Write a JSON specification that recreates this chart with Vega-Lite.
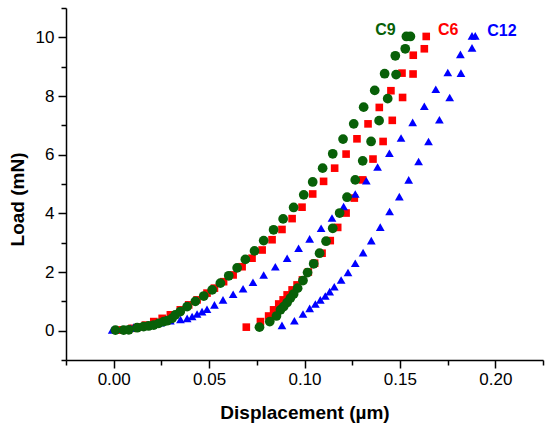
{
  "$schema": "https://vega.github.io/schema/vega-lite/v6.json",
  "autosize": "none",
  "width": 477,
  "height": 352,
  "padding": {"left": 66, "top": 8, "right": 7, "bottom": 68},
  "background": "white",
  "config": {
    "view": {"stroke": null},
    "axis": {
      "domainColor": "black", "domainWidth": 1.5,
      "tickColor": "black", "tickWidth": 1.5,
      "labelFont": "Liberation Sans", "labelFontSize": 17, "labelColor": "black",
      "titleFont": "Liberation Sans", "titleFontSize": 19, "titleFontWeight": "bold", "titleColor": "black",
      "grid": false, "labelOverlap": false, "labelFlush": false
    }
  },
  "datasets": {
    "pts": [
      {"s":"C6","x":0.0018,"y":0.02},{"s":"C6","x":0.005,"y":0.03},{"s":"C6","x":0.0096,"y":0.08},{"s":"C6","x":0.013,"y":0.13},{"s":"C6","x":0.0166,"y":0.19},{"s":"C6","x":0.021,"y":0.31},{"s":"C6","x":0.0254,"y":0.42},{"s":"C6","x":0.0297,"y":0.54},{"s":"C6","x":0.0349,"y":0.71},{"s":"C6","x":0.0393,"y":0.88},{"s":"C6","x":0.0437,"y":1.05},{"s":"C6","x":0.0489,"y":1.28},{"s":"C6","x":0.0528,"y":1.45},{"s":"C6","x":0.0576,"y":1.67},{"s":"C6","x":0.0626,"y":1.9},{"s":"C6","x":0.0673,"y":2.18},{"s":"C6","x":0.0725,"y":2.47},{"s":"C6","x":0.0778,"y":2.75},{"s":"C6","x":0.083,"y":3.1},{"s":"C6","x":0.0882,"y":3.45},{"s":"C6","x":0.0935,"y":3.82},{"s":"C6","x":0.0987,"y":4.21},{"s":"C6","x":0.1043,"y":4.66},{"s":"C6","x":0.11,"y":5.09},{"s":"C6","x":0.1158,"y":5.54},{"s":"C6","x":0.1218,"y":6.02},{"s":"C6","x":0.1275,"y":6.54},{"s":"C6","x":0.1333,"y":7.05},{"s":"C6","x":0.1392,"y":7.61},{"s":"C6","x":0.1453,"y":8.18},{"s":"C6","x":0.1511,"y":8.78},{"s":"C6","x":0.157,"y":9.39},{"s":"C6","x":0.1638,"y":10.03},
      {"s":"C6","x":0.1628,"y":9.61},{"s":"C6","x":0.1569,"y":8.75},{"s":"C6","x":0.1514,"y":7.95},{"s":"C6","x":0.146,"y":7.17},{"s":"C6","x":0.1412,"y":6.45},{"s":"C6","x":0.1359,"y":5.85},{"s":"C6","x":0.1305,"y":5.14},{"s":"C6","x":0.1261,"y":4.52},{"s":"C6","x":0.1218,"y":4.01},{"s":"C6","x":0.1174,"y":3.52},{"s":"C6","x":0.1135,"y":3.07},{"s":"C6","x":0.1092,"y":2.64},{"s":"C6","x":0.1053,"y":2.3},{"s":"C6","x":0.102,"y":2.0},{"s":"C6","x":0.0989,"y":1.73},{"s":"C6","x":0.0961,"y":1.56},{"s":"C6","x":0.0935,"y":1.39},{"s":"C6","x":0.0909,"y":1.22},{"s":"C6","x":0.0888,"y":1.05},{"s":"C6","x":0.0865,"y":0.91},{"s":"C6","x":0.0838,"y":0.71},{"s":"C6","x":0.0812,"y":0.5},{"s":"C6","x":0.0769,"y":0.31},{"s":"C6","x":0.0695,"y":0.12},
      {"s":"C12","x":-0.0008,"y":0.02},{"s":"C12","x":0.0044,"y":0.05},{"s":"C12","x":0.0088,"y":0.08},{"s":"C12","x":0.0105,"y":0.12},{"s":"C12","x":0.014,"y":0.14},{"s":"C12","x":0.0192,"y":0.19},{"s":"C12","x":0.0245,"y":0.27},{"s":"C12","x":0.0297,"y":0.34},{"s":"C12","x":0.035,"y":0.38},{"s":"C12","x":0.0385,"y":0.42},{"s":"C12","x":0.0411,"y":0.48},{"s":"C12","x":0.0437,"y":0.57},{"s":"C12","x":0.0463,"y":0.65},{"s":"C12","x":0.0489,"y":0.73},{"s":"C12","x":0.0528,"y":0.88},{"s":"C12","x":0.0573,"y":1.05},{"s":"C12","x":0.0626,"y":1.24},{"s":"C12","x":0.0678,"y":1.43},{"s":"C12","x":0.073,"y":1.65},{"s":"C12","x":0.0786,"y":1.9},{"s":"C12","x":0.0847,"y":2.18},{"s":"C12","x":0.0909,"y":2.47},{"s":"C12","x":0.0969,"y":2.81},{"s":"C12","x":0.1027,"y":3.13},{"s":"C12","x":0.1087,"y":3.49},{"s":"C12","x":0.1144,"y":3.84},{"s":"C12","x":0.1205,"y":4.23},{"s":"C12","x":0.1266,"y":4.66},{"s":"C12","x":0.1324,"y":5.11},{"s":"C12","x":0.1383,"y":5.58},{"s":"C12","x":0.1445,"y":6.05},{"s":"C12","x":0.1506,"y":6.57},{"s":"C12","x":0.1567,"y":7.1},{"s":"C12","x":0.1628,"y":7.65},{"s":"C12","x":0.1688,"y":8.23},{"s":"C12","x":0.1751,"y":8.8},{"s":"C12","x":0.1817,"y":9.42},{"s":"C12","x":0.1878,"y":10.05},{"s":"C12","x":0.1895,"y":10.05},
      {"s":"C12","x":0.1878,"y":9.64},{"s":"C12","x":0.182,"y":8.78},{"s":"C12","x":0.1761,"y":7.95},{"s":"C12","x":0.1707,"y":7.19},{"s":"C12","x":0.165,"y":6.45},{"s":"C12","x":0.1598,"y":5.77},{"s":"C12","x":0.1546,"y":5.14},{"s":"C12","x":0.1497,"y":4.57},{"s":"C12","x":0.1446,"y":4.06},{"s":"C12","x":0.1397,"y":3.53},{"s":"C12","x":0.135,"y":3.07},{"s":"C12","x":0.1307,"y":2.66},{"s":"C12","x":0.1266,"y":2.3},{"s":"C12","x":0.1228,"y":1.98},{"s":"C12","x":0.1192,"y":1.73},{"s":"C12","x":0.1156,"y":1.5},{"s":"C12","x":0.1132,"y":1.33},{"s":"C12","x":0.1109,"y":1.18},{"s":"C12","x":0.1083,"y":1.05},{"s":"C12","x":0.1057,"y":0.91},{"s":"C12","x":0.1027,"y":0.76},{"s":"C12","x":0.0992,"y":0.57},{"s":"C12","x":0.0947,"y":0.34},{"s":"C12","x":0.0882,"y":0.18},
      {"s":"C9","x":0.0009,"y":0.02},{"s":"C9","x":0.0052,"y":0.02},{"s":"C9","x":0.0079,"y":0.03},{"s":"C9","x":0.0123,"y":0.1},{"s":"C9","x":0.0157,"y":0.14},{"s":"C9","x":0.0183,"y":0.16},{"s":"C9","x":0.021,"y":0.19},{"s":"C9","x":0.0236,"y":0.25},{"s":"C9","x":0.0262,"y":0.31},{"s":"C9","x":0.028,"y":0.34},{"s":"C9","x":0.0306,"y":0.42},{"s":"C9","x":0.0323,"y":0.54},{"s":"C9","x":0.0349,"y":0.65},{"s":"C9","x":0.0385,"y":0.82},{"s":"C9","x":0.0428,"y":1.0},{"s":"C9","x":0.0472,"y":1.18},{"s":"C9","x":0.0516,"y":1.39},{"s":"C9","x":0.0559,"y":1.62},{"s":"C9","x":0.0603,"y":1.87},{"s":"C9","x":0.0647,"y":2.14},{"s":"C9","x":0.069,"y":2.43},{"s":"C9","x":0.0738,"y":2.72},{"s":"C9","x":0.0786,"y":3.07},{"s":"C9","x":0.0838,"y":3.44},{"s":"C9","x":0.0888,"y":3.81},{"s":"C9","x":0.0943,"y":4.2},{"s":"C9","x":0.0996,"y":4.63},{"s":"C9","x":0.1043,"y":5.07},{"s":"C9","x":0.1095,"y":5.54},{"s":"C9","x":0.1148,"y":6.03},{"s":"C9","x":0.1202,"y":6.53},{"s":"C9","x":0.1258,"y":7.05},{"s":"C9","x":0.131,"y":7.62},{"s":"C9","x":0.1368,"y":8.19},{"s":"C9","x":0.142,"y":8.76},{"s":"C9","x":0.1476,"y":9.37},{"s":"C9","x":0.1528,"y":9.61},{"s":"C9","x":0.1534,"y":10.03},{"s":"C9","x":0.1555,"y":10.03},
      {"s":"C9","x":0.148,"y":8.73},{"s":"C9","x":0.1436,"y":7.91},{"s":"C9","x":0.1391,"y":7.16},{"s":"C9","x":0.1349,"y":6.45},{"s":"C9","x":0.1305,"y":5.79},{"s":"C9","x":0.1266,"y":5.14},{"s":"C9","x":0.1223,"y":4.55},{"s":"C9","x":0.1184,"y":4.01},{"s":"C9","x":0.1148,"y":3.49},{"s":"C9","x":0.1113,"y":3.05},{"s":"C9","x":0.1079,"y":2.64},{"s":"C9","x":0.1048,"y":2.28},{"s":"C9","x":0.1016,"y":1.98},{"s":"C9","x":0.0992,"y":1.71},{"s":"C9","x":0.0964,"y":1.45},{"s":"C9","x":0.0943,"y":1.25},{"s":"C9","x":0.0926,"y":1.11},{"s":"C9","x":0.0909,"y":0.96},{"s":"C9","x":0.0891,"y":0.82},{"s":"C9","x":0.0874,"y":0.71},{"s":"C9","x":0.0853,"y":0.5},{"s":"C9","x":0.0818,"y":0.31},{"s":"C9","x":0.0764,"y":0.12}
    ],
    "labels": [
      {"s":"C9","x":0.1424,"y":10.25},
      {"s":"C6","x":0.1753,"y":10.25},
      {"s":"C12","x":0.2035,"y":10.23}
    ]
  },
  "encoding": {
    "x": {
      "field": "x", "type": "quantitative",
      "scale": {"domain": [-0.025, 0.225], "nice": false, "zero": false},
      "axis": {
        "title": "Displacement (µm)",
        "values": [-0.025, 0, 0.025, 0.05, 0.075, 0.1, 0.125, 0.15, 0.175, 0.2, 0.225],
        "labelExpr": "abs(datum.value*20 - round(datum.value*20)) < 0.001 && datum.value > -0.01 && datum.value < 0.21 ? format(datum.value, '.2f') : ''",
        "tickSize": {"condition": {"test": "abs(datum.value*20 - round(datum.value*20)) < 0.001 && datum.value > -0.01 && datum.value < 0.21", "value": 8}, "value": 5},
        "labelPadding": 3,
        "titleY": 58,
        "titleBaseline": "alphabetic"
      }
    },
    "y": {
      "field": "y", "type": "quantitative",
      "scale": {"domain": [-1, 11], "nice": false, "zero": false},
      "axis": {
        "title": "Load (mN)",
        "values": [-1, 0, 1, 2, 3, 4, 5, 6, 7, 8, 9, 10, 11],
        "labelExpr": "datum.value % 2 == 0 && datum.value >= 0 && datum.value <= 10 ? datum.label : ''",
        "tickSize": {"condition": {"test": "datum.value % 2 == 0 && datum.value >= 0 && datum.value <= 10", "value": 8}, "value": 5},
        "labelPadding": 4,
        "titleX": -42.5,
        "titleY": 191,
        "titleBaseline": "alphabetic"
      }
    },
    "color": {
      "field": "s", "type": "nominal",
      "scale": {"domain": ["C6", "C12", "C9"], "range": ["#ff0000", "#0000ff", "#086008"]},
      "legend": null
    }
  },
  "layer": [
    {
      "data": {"name": "pts"},
      "mark": {"type": "point", "filled": true, "opacity": 1},
      "encoding": {
        "shape": {
          "field": "s", "type": "nominal",
          "scale": {"domain": ["C6", "C12", "C9"], "range": ["square", "triangle-up", "circle"]},
          "legend": null
        },
        "size": {
          "field": "s", "type": "nominal",
          "scale": {"domain": ["C6", "C12", "C9"], "range": [58, 95, 68]},
          "legend": null
        }
      }
    },
    {
      "data": {"name": "labels"},
      "mark": {"type": "text", "font": "Liberation Sans", "fontSize": 16, "fontWeight": "bold", "align": "center", "baseline": "middle"},
      "encoding": {"text": {"field": "s"}}
    }
  ]
}
